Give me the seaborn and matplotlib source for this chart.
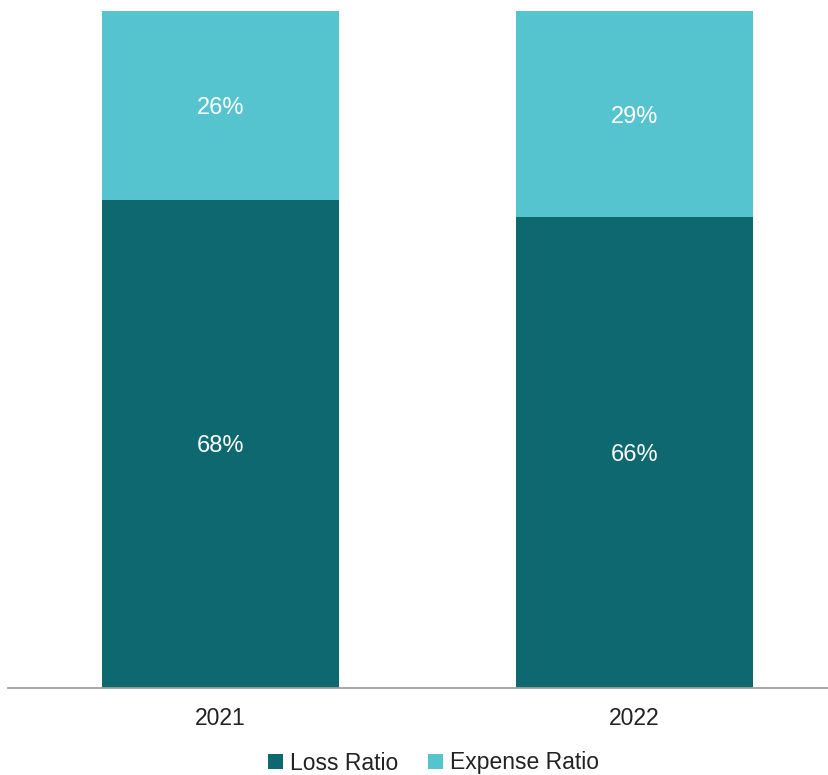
import matplotlib
matplotlib.use("Agg")
import matplotlib.pyplot as plt
import seaborn as sns
import pandas as pd
from matplotlib.patches import Patch

years = ["2021", "2022"]
loss_ratio = [68.2, 65.8]
expense_ratio = [26.4, 28.8]
series_names = ["Loss Ratio", "Expense Ratio"]

dark = "#0D6870"
light = "#56C4CF"

sns.set_theme(style="white")
plt.rcParams["font.family"] = ["Liberation Sans", "DejaVu Sans"]

totals = [l + e for l, e in zip(loss_ratio, expense_ratio)]
df = pd.DataFrame({"year": years, "loss": loss_ratio, "expense": expense_ratio, "total": totals})

fig = plt.figure(figsize=(8.29, 7.75), dpi=100)
ax = fig.add_axes([8 / 829, 1 - 688 / 775, 1 - 8 / 829, (688 - 11) / 775])

sns.barplot(data=df, x="year", y="total", color=light, width=0.572, ax=ax,
            saturation=1, linewidth=0)
sns.barplot(data=df, x="year", y="loss", color=dark, width=0.572, ax=ax,
            saturation=1, linewidth=0)

for i, (l, e) in enumerate(zip(loss_ratio, expense_ratio)):
    ax.text(i, l / 2, f"{round(l)}%", ha="center", va="center_baseline", color="white", fontsize=17)
    ax.text(i, l + e / 2, f"{round(e)}%", ha="center", va="center_baseline", color="white", fontsize=17)

ax.set_ylim(0, max(totals))
ax.set_xlim(-0.513, 1.47)
ax.set_xlabel("")
ax.set_ylabel("")
ax.set_yticks([])
ax.tick_params(axis="x", length=0, pad=14, labelsize=16.5, labelcolor="#222222")
for s in ["top", "left", "right"]:
    ax.spines[s].set_visible(False)
ax.spines["bottom"].set_color("#A0A0A0")
ax.spines["bottom"].set_linewidth(1.3)

handles = [Patch(facecolor=dark, edgecolor="none"), Patch(facecolor=light, edgecolor="none")]
fig.legend(handles, series_names, loc="center", bbox_to_anchor=(0.523, 1 - 763 / 775),
           ncol=2, frameon=False, fontsize=16.5, handlelength=0.65, handleheight=0.65,
           handletextpad=0.3, columnspacing=1.3, labelcolor="#222222")

fig.savefig("out.png", dpi=100)
